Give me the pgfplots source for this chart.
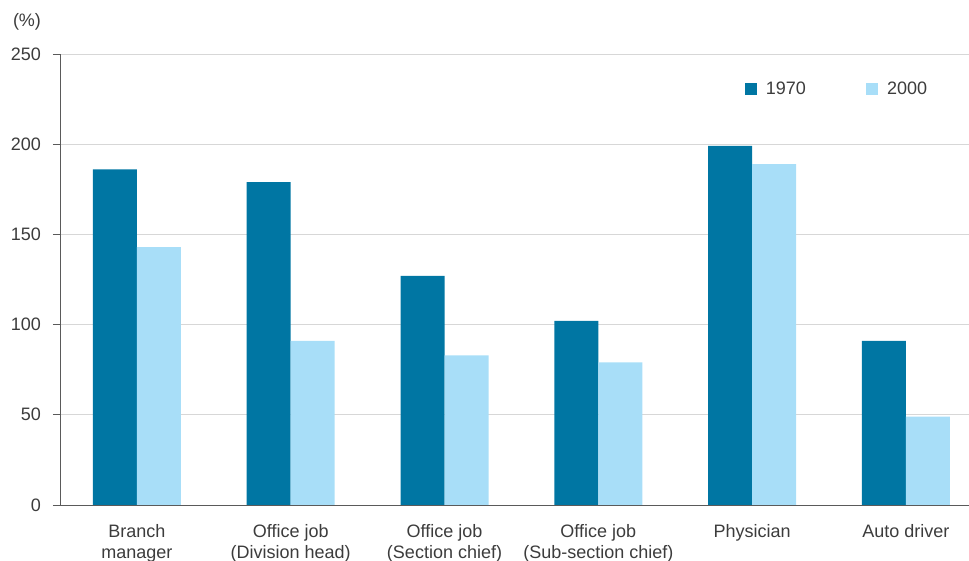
\documentclass[border=0pt]{standalone}
\usepackage{fontspec}
\setmainfont{Liberation Sans}
\usepackage{pgfplots}
\pgfplotsset{compat=1.18}
\definecolor{dark}{RGB}{0,118,163}
\definecolor{light}{RGB}{168,222,248}
\definecolor{txt}{RGB}{60,60,60}
\definecolor{gridc}{RGB}{215,215,215}
\definecolor{axc}{RGB}{90,90,90}

\begin{document}
\fontsize{18}{21}\selectfont
\begin{tikzpicture}
\begin{axis}[
    at={(0pt,0pt)}, anchor=south west,
    scale only axis,
    width=909pt, height=451pt,
    ybar=0pt, bar width=0.286,
    xmin=-0.5, xmax=5.41,
    ymin=0, ymax=250,
    ytick={0,50,100,150,200,250},
    ymajorgrids, grid style={gridc, line width=0.8pt},
    xtick={0,1,2,3,4,5},
    xticklabels={Branch\\manager, Office job\\(Division head), Office job\\(Section chief), Office job\\(Sub-section chief), Physician, Auto driver},
    xticklabel style={align=center, text=txt, font=\fontsize{18}{21}\selectfont, yshift=-6pt},
    yticklabel style={text=txt, font=\fontsize{18}{21}\selectfont, xshift=-6pt},
    /pgf/number format/assume math mode=true,
    major x tick style={draw=none},
    extra x ticks={-0.5,0.5,1.5,2.5,3.5,4.5},
    extra x tick labels={},
    extra x tick style={major tick length=9pt, tick align=outside, major tick style={axc, line width=0.8pt}},
    y tick style={axc, line width=0.8pt},
    major tick length=7pt, tick align=outside,
    tick pos=left,
    axis x line*=bottom, axis y line*=left,
    axis line style={axc, line width=0.8pt},
    x axis line style={-}, y axis line style={-},
    legend style={draw=none, at={(0.750,0.922)}, anchor=west, font=\fontsize{18}{21}\selectfont, text=txt,
        /tikz/every even column/.append style={column sep=58pt}},
    legend columns=2,
    legend image code/.code={\fill[#1] (0pt,-6pt) rectangle (12pt,6pt); \path (19pt,0pt);},
    clip=false,
]
\addplot[fill=dark, draw=none] coordinates {(0,186) (1,179) (2,127) (3,102) (4,199) (5,91)};
\addlegendentry{1970}
\addplot[fill=light, draw=none] coordinates {(0,143) (1,91) (2,83) (3,79) (4,189) (5,49)};
\addlegendentry{2000}
\node[text=txt, font=\fontsize{18}{21}\selectfont] at (rel axis cs:0,1) [xshift=-33pt, yshift=32pt] {(\%)};
\end{axis}
\pgfresetboundingbox
\path[use as bounding box] (-60pt,-56pt) rectangle (909pt,505pt);
\end{tikzpicture}
\end{document}
